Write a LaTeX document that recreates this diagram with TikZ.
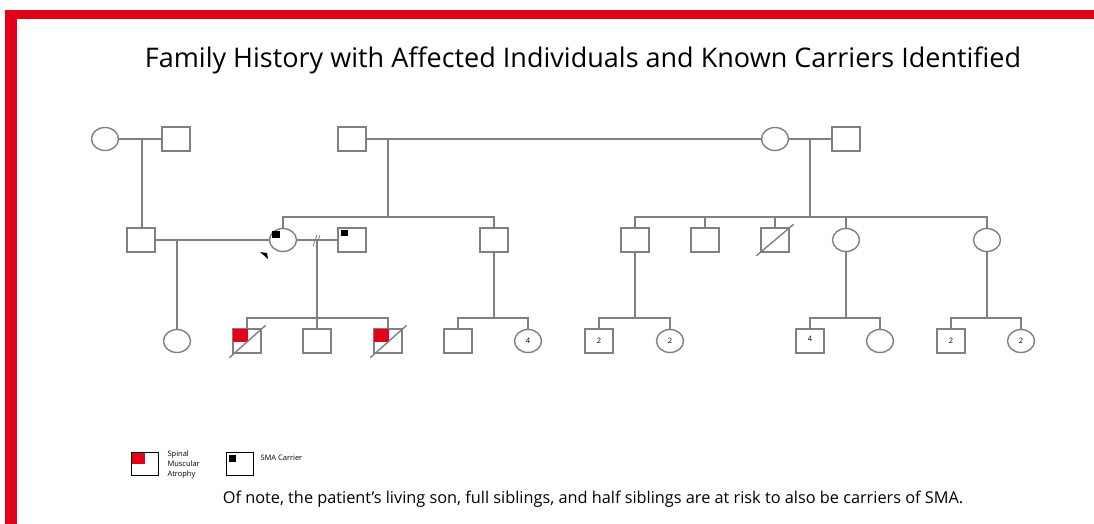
\documentclass[tikz,border=0pt]{standalone}
\usepackage{fontspec}
\setmainfont{Open Sans}
\usetikzlibrary{shapes.geometric}
\definecolor{smared}{RGB}{226,0,26}
\definecolor{pedgray}{RGB}{128,128,128}

\begin{document}
\begin{tikzpicture}[x=1pt,y=-1pt,
	male/.style={draw=pedgray,line width=1.4pt,rectangle,minimum width=28pt,minimum height=24pt,inner sep=0pt,fill=white,font=\fontsize{7.5}{8}\selectfont},
	female/.style={draw=pedgray,line width=1.4pt,ellipse,minimum width=27pt,minimum height=23pt,inner sep=0pt,fill=white,font=\fontsize{7.5}{8}\selectfont},
	rel/.style={draw=pedgray,line width=1.4pt},
	legbox/.style={draw=black,line width=1pt,rectangle,minimum width=27pt,minimum height=23pt,inner sep=0pt}]
	\useasboundingbox (0,0) rectangle (1094,524);
	% red frame
	\fill[smared] (5,10) rectangle (1094,19);
	\fill[smared] (5,10) rectangle (17,524);
	
	\node (title) at (583,60) {\fontsize{27}{32}\selectfont Family History with Affected Individuals and Known Carriers Identified};
	
	% generation I
	\node[female] (gma) at (105,139) {};
	\node[male] (gpa) at (176,139) {};
	\node[male] (dad) at (352,139) {};
	\node[female] (mom) at (775,139) {};
	\node[male] (stepdad) at (846,139) {};
	
	% generation II
	\node[male] (ex) at (141,240) {};
	\node[female] (pat) at (283,240) {};
	\node[male] (husb) at (352,240) {};
	\node[male] (bro) at (494,240) {};
	\node[male] (hs1) at (635,240) {};
	\node[male] (hs2) at (705,240) {};
	\node[male] (hs3) at (775,240) {};
	\node[female] (hs4) at (846,240) {};
	\node[female] (hs5) at (987,240) {};
	
	% generation III
	\node[female] (dau) at (177,341) {};
	\node[male] (son1) at (247,341) {};
	\node[male] (son2) at (317,341) {};
	\node[male] (son3) at (388,341) {};
	\node[male] (nb1) at (458,341) {};
	\node[female] (nb2) at (528,341) {4};
	\node[male] (nb3) at (599,341) {2};
	\node[female] (nb4) at (670,341) {2};
	\node[male] (nb5) at (810,341) {\raisebox{4pt}{4}\hspace{3pt}};
	\node[female] (nb6) at (880,341) {};
	\node[male] (nb7) at (951,341) {2\hspace{3pt}};
	\node[female] (nb8) at (1021,341) {2};
	
	% couples and sibships
	\draw[rel] (gma) -- (gpa);
	\coordinate (j1) at (142,139);
	\draw[rel] (j1) -- (j1 |- ex.north);
	
	\draw[rel] (dad) -- (mom);
	\coordinate (j2) at (388,139);
	\coordinate (sib2) at (388,217);
	\draw[rel] (j2) -- (sib2);
	\draw[rel] (pat.north) |- (sib2) -| (bro.north);
	
	\draw[rel] (ex) -- (pat);
	\coordinate (j3) at (177,240);
	\draw[rel] (j3) -- (dau);
	
	\draw[rel] (pat) -- (husb);
	\draw[pedgray,line width=0.8pt] (313,246) -- (317,235) (316,246) -- (320,235);
	\coordinate (j4) at (317,240);
	\coordinate (sib4) at (317,318);
	\draw[rel] (j4) -- (sib4) -- (son2);
	\draw[rel] (son1.north) |- (sib4) -| (son3.north);
	
	\coordinate (sib5) at (494,318);
	\draw[rel] (bro) -- (sib5);
	\draw[rel] (nb1.north) |- (sib5) -| (nb2.north);
	
	\draw[rel] (mom) -- (stepdad);
	\coordinate (j6) at (810,139);
	\coordinate (sib6) at (810,217);
	\draw[rel] (j6) -- (sib6);
	\draw[rel] (hs1.north) |- (sib6) -| (hs5.north);
	\foreach \k in {hs2,hs3,hs4}
		\draw[rel] (\k.north) -- (\k.north |- sib6);
	
	\coordinate (sib7) at (635,318);
	\draw[rel] (hs1) -- (sib7);
	\draw[rel] (nb3.north) |- (sib7) -| (nb4.north);
	\coordinate (sib8) at (846,318);
	\draw[rel] (hs4) -- (sib8);
	\draw[rel] (nb5.north) |- (sib8) -| (nb6.north);
	\coordinate (sib9) at (987,318);
	\draw[rel] (hs5) -- (sib9);
	\draw[rel] (nb7.north) |- (sib9) -| (nb8.north);
	
	% affected, deceased and carriers
	\foreach \k in {son1,son3} {
		\fill[smared] ([shift={(0.7,0.7)}]\k.north west) rectangle ([shift={(1,1)}]\k.center);
		\draw[rel] ([shift={(-3,4)}]\k.south west) -- ([shift={(4,-3)}]\k.north east);
	}
	\draw[rel] ([shift={(-4,3)}]hs3.south west) -- ([shift={(4,-3)}]hs3.north east);
	\fill ([shift={(4,3)}]husb.north west) rectangle +(7,6);
	\fill ([shift={(3,3)}]pat.west |- pat.north) rectangle +(8,7);
	% proband arrow
	\fill ([shift={(-23,12)}]pat.center) -- ([shift={(-16,13)}]pat.center) -- ([shift={(-15,19)}]pat.center) -- cycle;
	
	% legend
	\node[legbox] (legaff) at (145,464) {};
	\fill[smared] ([shift={(0.5,0.5)}]legaff.north west) rectangle (legaff.center);
	\node[anchor=west,align=left,font=\fontsize{7.5}{10}\selectfont] (legafftxt) at (164,465) {Spinal\\Muscular\\Atrophy};
	\node[legbox] (legcar) at (240,464) {};
	\fill ([shift={(3,3)}]legcar.north west) rectangle +(7,7);
	\node[anchor=west,font=\fontsize{7.5}{9}\selectfont] (legcartxt) at (257,458) {SMA Carrier};
	
	\node (note) at (593,499) {\fontsize{16.3}{19}\selectfont Of note, the patient's living son, full siblings, and half siblings are at risk to also be carriers of SMA.};
\end{tikzpicture}
\end{document}
